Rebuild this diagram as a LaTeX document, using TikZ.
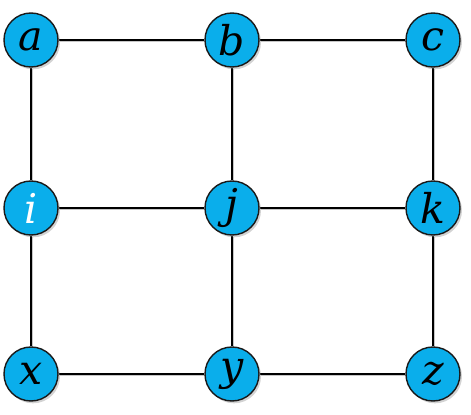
\documentclass[tikz,border=0pt]{standalone}
\usepackage{fontspec}
\usepackage{tikz}
\usepackage{xcolor}
\usetikzlibrary{shadows, backgrounds}
\newfontfamily\vtxfont{DejaVu Serif}
\definecolor{Vtx_Blue}{HTML}{0AAEEB}
\definecolor{Vtx_Rim}{HTML}{1A1A1A}

\begin{document}
\begin{tikzpicture}[x=0.03cm, y=0.03cm,
  vtx/.style={circle, draw=Vtx_Rim, line width=1.2pt, fill=Vtx_Blue, minimum size=1.62cm, inner sep=0pt,
    font=\vtxfont\itshape\fontsize{35}{35}\selectfont,
    drop shadow={shadow xshift=0.06cm, shadow yshift=-0.07cm, opacity=0.35}},
  link/.style={line width=0.9pt, black,
    preaction={draw, gray!45, line width=1.4pt, transform canvas={xshift=0.04cm, yshift=-0.04cm}}}]
\useasboundingbox (0,0) rectangle (471,414);
% Vertices: 3 rows, 3 columns
\node[vtx] (a) at (31,374) {a};
\node[vtx] (b) at (232,374) {b};
\node[vtx] (c) at (433,374) {c};
\node[vtx, text=white] (i) at (31,206) {i};
\node[vtx] (j) at (232,206) {j};
\node[vtx] (k) at (433,206) {k};
\node[vtx] (x) at (31,40) {x};
\node[vtx] (y) at (232,40) {y};
\node[vtx] (z) at (433,40) {z};
% Edges (behind the vertices)
\begin{scope}[on background layer]
\foreach \u/\v in {a/b, b/c, i/j, j/k, x/y, y/z, a/i, i/x, b/j, j/y, c/k, k/z}
  \draw[link] (\u) -- (\v);
\end{scope}
\end{tikzpicture}
\end{document}
